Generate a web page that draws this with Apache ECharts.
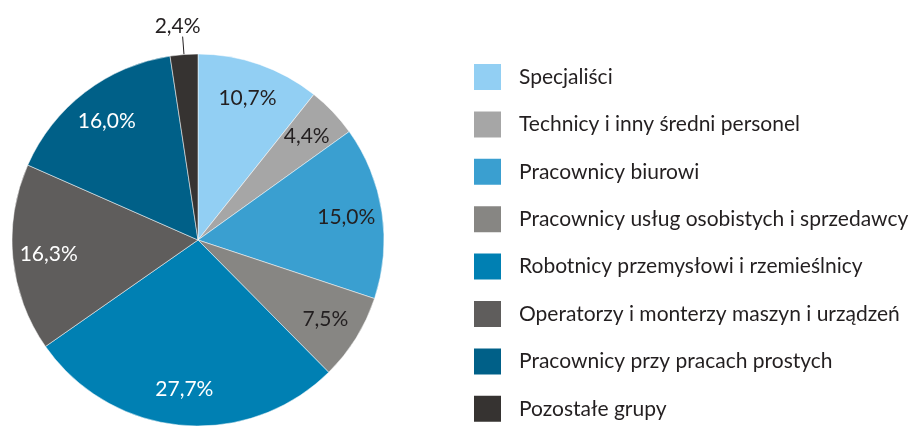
<!DOCTYPE html>
<html><head><meta charset="utf-8">
<script src="https://cdn.jsdelivr.net/npm/echarts@6/dist/echarts.min.js"></script>
<style>html,body{margin:0;padding:0;background:#fff}#c{width:911px;height:426px}</style>
</head><body><div id="c"></div>
<script>
const categories = [
  'Specjaliści',
  'Technicy i inny średni personel',
  'Pracownicy biurowi',
  'Pracownicy usług osobistych i sprzedawcy',
  'Robotnicy przemysłowi i rzemieślnicy',
  'Operatorzy i monterzy maszyn i urządzeń',
  'Pracownicy przy pracach prostych',
  'Pozostałe grupy'
];
const values = [10.7, 4.4, 15.0, 7.5, 27.7, 16.3, 16.0, 2.4];
const colors = ['#92cff3', '#a6a6a6', '#3a9fd0', '#878683', '#0080b3', '#5f5d5c', '#006088', '#363331'];
const labelColors = ['#231f20', '#231f20', '#231f20', '#231f20', '#ffffff', '#ffffff', '#ffffff', '#231f20'];

const FONT = 'Lato';
const fmt = v => v.toFixed(1).replace('.', ',') + '%';

const mainData = categories.map((n, i) => ({
  name: n, value: values[i],
  itemStyle: { color: colors[i] },
  label: { show: i === 7 },
  labelLine: { show: i === 7 }
}));
const ringData = categories.map((n, i) => ({
  name: n, value: values[i],
  label: { show: i !== 7, color: labelColors[i] }
}));

const chart = echarts.init(document.getElementById('c'));
chart.setOption({
  animation: false,
  legend: {
    orient: 'vertical', left: 472, top: 62, height: 380, padding: 0,
    itemWidth: 29, itemHeight: 28, itemGap: 17.4,
    icon: 'rect',
    data: categories,
    textStyle: { fontFamily: FONT, fontSize: 21, lineHeight: 28, color: '#231f20', padding: [0, 0, 0, 12] }
  },
  series: [
    {
      type: 'pie', center: [198, 240], radius: 186,
      startAngle: 90, clockwise: true,
      data: mainData,
      itemStyle: { borderColor: '#ffffff', borderWidth: 0.5 },
      label: {
        position: 'outside', fontFamily: FONT, fontSize: 21, color: '#231f20',
        formatter: p => fmt(p.value)
      },
      labelLine: { length: 18, length2: 0, lineStyle: { color: '#231f20', width: 1 } },
      labelLayout: p => (p.dataIndex === 7 ? { align: 'center', verticalAlign: 'bottom' } : {}),
      emphasis: { disabled: true }
    },
    {
      type: 'pie', center: [198, 240], radius: [108, 186],
      startAngle: 90, clockwise: true, silent: true,
      data: ringData,
      itemStyle: { color: 'rgba(0,0,0,0)' },
      label: {
        position: 'inside', fontFamily: FONT, fontSize: 21,
        formatter: p => fmt(p.value)
      },
      labelLine: { show: false },
      legendHoverLink: false,
      emphasis: { disabled: true },
      tooltip: { show: false }
    }
  ]
});
</script></body></html>
